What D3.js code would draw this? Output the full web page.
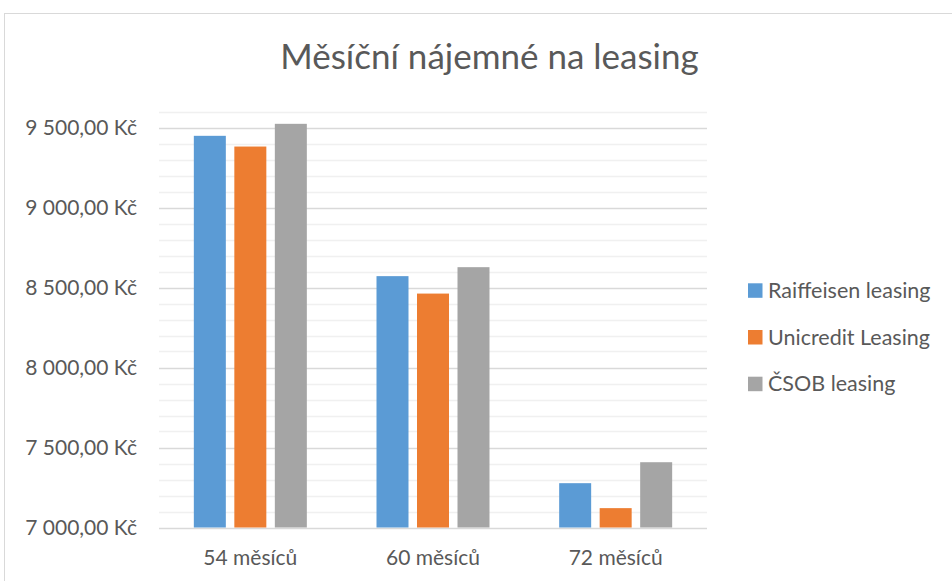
<!DOCTYPE html>
<html>
<head>
<meta charset="utf-8">
<script src="https://cdn.jsdelivr.net/npm/d3@7"></script>
<style>
  body { margin: 0; background: #fff; }
  svg text { font-family: Lato, "Open Sans", sans-serif; fill: #595959; }
</style>
</head>
<body>
<div id="chart"></div>
<script>
// DATA
var categories = ["54 měsíců", "60 měsíců", "72 měsíců"];
var seriesNames = ["Raiffeisen leasing", "Unicredit Leasing", "ČSOB leasing"];
var raiffeisen = [9448, 8571, 7277];
var unicredit = [9381, 8462, 7121];
var csob = [9523, 8627, 7408];
var yTicks = [7000, 7500, 8000, 8500, 9000, 9500];
var colors = ["#5b9bd5", "#ed7d31", "#a5a5a5"];

var width = 952, height = 581;
var plot = { left: 159, right: 707, top: 111.5, bottom: 527.5 };
var groupWidth = 113;

var svg = d3.select("#chart").append("svg")
    .attr("width", width)
    .attr("height", height);

// chart frame (cut off right and bottom as in the picture)
svg.append("rect")
    .attr("x", 4.5).attr("y", 13.5)
    .attr("width", 1000).attr("height", 1000)
    .attr("fill", "none")
    .attr("stroke", "#d9d9d9");

svg.append("text")
    .attr("x", 489.5)
    .attr("y", 68.5)
    .attr("text-anchor", "middle")
    .style("font-size", "35px")
    .text("Měsíční nájemné na leasing");

var y = d3.scaleLinear()
    .domain([7000, 9600])
    .range([plot.bottom, plot.top]);

var x = d3.scaleBand()
    .domain(categories)
    .range([plot.left, plot.right]);

var xInner = d3.scaleBand()
    .domain(seriesNames)
    .range([0, groupWidth])
    .paddingInner(0.21);

// minor gridlines every 100
svg.append("g")
    .selectAll("line")
    .data(d3.range(7100, 9700, 100).filter(d => d % 500 != 0))
    .join("line")
    .attr("x1", plot.left).attr("x2", plot.right)
    .attr("y1", d => Math.round(y(d)) + 0.5)
    .attr("y2", d => Math.round(y(d)) + 0.5)
    .attr("stroke", "#f0f0f0")
    .attr("stroke-width", 1.5);

// major gridlines
svg.append("g")
    .selectAll("line")
    .data(yTicks)
    .join("line")
    .attr("x1", plot.left).attr("x2", plot.right)
    .attr("y1", d => Math.round(y(d)) + 0.5)
    .attr("y2", d => Math.round(y(d)) + 0.5)
    .attr("stroke", "#d9d9d9")
    .attr("stroke-width", 1.5);

// y axis labels
var yAxis = d3.axisLeft(y)
    .tickValues(yTicks)
    .tickSize(0)
    .tickPadding(0)
    .tickFormat(d => d3.format(",.2f")(d).replace(",", " ").replace(".", ",") + " Kč");

svg.append("g")
    .attr("transform", "translate(137,0)")
    .call(yAxis)
    .call(g => g.select(".domain").remove())
    .selectAll("text")
    .attr("font-family", null)
    .style("font-size", "21px")
    .attr("fill", "#595959");

// bars
var rows = categories.map((c, i) => ({
    category: c,
    values: [raiffeisen[i], unicredit[i], csob[i]]
}));

var groups = svg.append("g")
    .selectAll("g")
    .data(rows)
    .join("g")
    .attr("transform", d => "translate(" + (x(d.category) + (x.bandwidth() - groupWidth) / 2) + ",0)");

groups.selectAll("rect")
    .data(d => d.values.map((v, i) => ({ name: seriesNames[i], value: v, color: colors[i] })))
    .join("rect")
    .attr("x", d => xInner(d.name))
    .attr("width", xInner.bandwidth())
    .attr("y", d => y(d.value))
    .attr("height", d => y(7000) - y(d.value))
    .attr("fill", d => d.color);

// x axis labels
var xAxis = d3.axisBottom(x).tickSize(0).tickPadding(0);
svg.append("g")
    .attr("transform", "translate(0,565)")
    .call(xAxis)
    .call(g => g.select(".domain").remove())
    .selectAll("text")
    .attr("dy", 0)
    .attr("font-family", null)
    .style("font-size", "21px")
    .attr("fill", "#595959");

// legend
var legend = svg.append("g")
    .selectAll("g")
    .data(seriesNames)
    .join("g")
    .attr("transform", (d, i) => "translate(748," + (290.5 + i * 46.7) + ")");

legend.append("rect")
    .attr("x", 0).attr("y", -7.2)
    .attr("width", 14.5).attr("height", 14.5)
    .attr("fill", (d, i) => colors[i]);

legend.append("text")
    .attr("x", 20)
    .attr("y", 7.3)
    .style("font-size", "21.5px")
    .text(d => d);
</script>
</body>
</html>
